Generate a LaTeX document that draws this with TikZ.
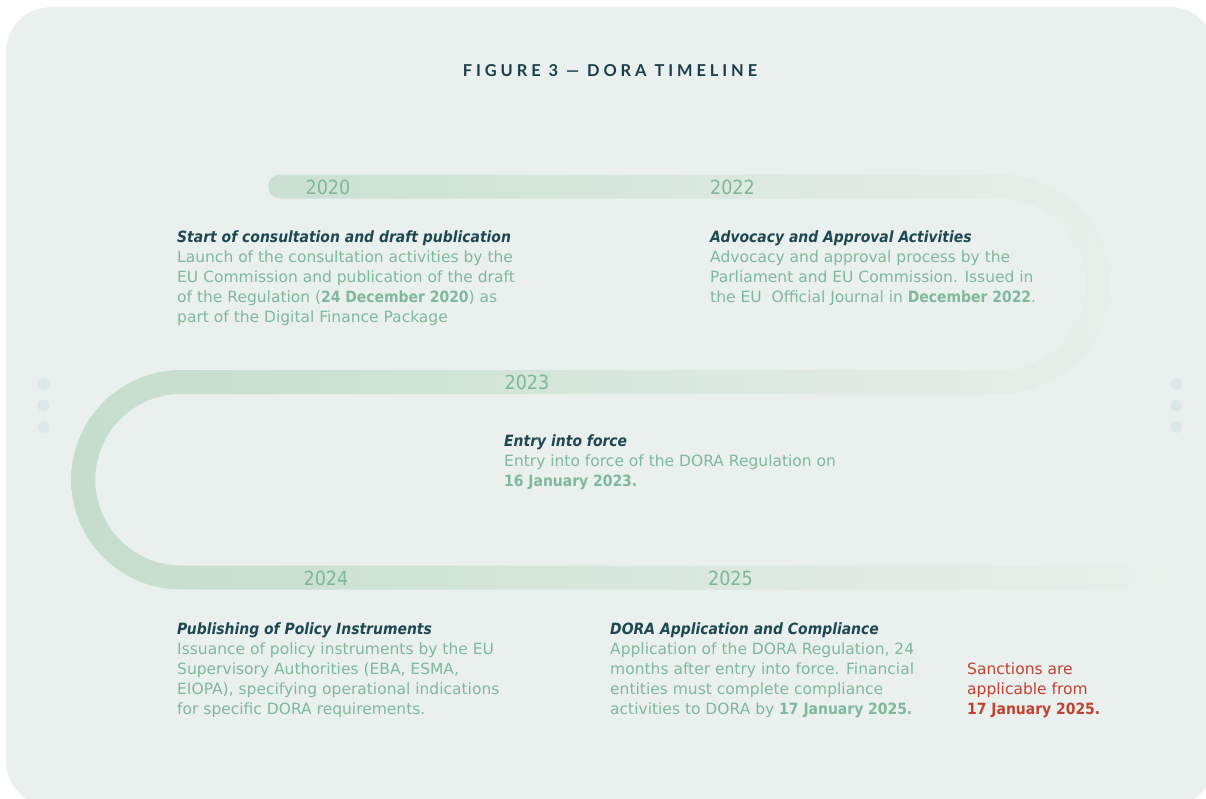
\documentclass[tikz,border=0pt]{standalone}
\usepackage{fontspec}
\setmainfont{DejaVu Sans}[
  ItalicFont={DejaVu Sans Oblique},
  BoldFont={DejaVu Sans Condensed Bold},
  BoldItalicFont={DejaVu Sans Condensed Bold Oblique}]
\newfontfamily\yearfont{DejaVu Sans Condensed}
\newfontfamily\titlefont{Lato}[LetterSpace=24]

\definecolor{pagebg}{HTML}{EAF0ED}
\definecolor{trackL}{HTML}{C4DDCC}
\definecolor{trackR}{HTML}{EAF0ED}
\definecolor{titlecol}{HTML}{173F4B}
\definecolor{headcol}{HTML}{1D4852}
\definecolor{bodycol}{HTML}{7DB99B}
\definecolor{yearcol}{HTML}{7CB799}
\definecolor{redcol}{HTML}{C2412F}
\definecolor{dotcol}{HTML}{DCE7E7}

\begin{document}
\begin{tikzpicture}[x=1bp,y=-1bp,
  yearlbl/.style={font=\yearfont\fontsize{19.5bp}{19.5bp}\selectfont, text=yearcol, inner sep=0pt, anchor=base},
  % multi-line blocks are placed by the baseline of their last line
  block/.style={font=\fontsize{15.5bp}{20bp}\selectfont, text=bodycol, align=left, inner sep=0pt, anchor=base west},
  dot/.style={fill=dotcol, draw=none},
  ]
\useasboundingbox (0,0) rectangle (1206,799);

% card background
\fill[pagebg, rounded corners=45bp] (6,7) rectangle (1215,806);

% serpentine track: one closed outline, shaded left to right
\shade[left color=trackL, right color=trackR]
  (280,174.5) -- (1000,174.5)
  arc[start angle=-90, end angle=90, radius=109.75]
  -- (181,394)
  arc[start angle=-90, end angle=-270, radius=85.75]
  -- (1180,565.5) -- (1180,589.5) -- (181,589.5)
  arc[start angle=90, end angle=270, radius=109.75]
  -- (1000,370)
  arc[start angle=90, end angle=-90, radius=85.75]
  -- (280,198.5)
  arc[start angle=90, end angle=270, radius=12]
  -- cycle;

% side dots
\foreach \yy in {384,405.5,427} {
  \fill[dot] (43.5,\yy) circle[radius=5.8];
  \fill[dot] (1176.5,\yy) circle[radius=5.8];
}

% title
\node[font=\titlefont\bfseries\fontsize{16.4bp}{16.4bp}\selectfont, text=titlecol, anchor=base, inner sep=0pt]
  (title) at (610,76.5) {FIGURE 3 — DORA TIMELINE};

% years
\node[yearlbl] (y2020) at (328,194) {2020};
\node[yearlbl] (y2022) at (732.5,194) {2022};
\node[yearlbl] (y2023) at (527,389.5) {2023};
\node[yearlbl] (y2024) at (326,585) {2024};
\node[yearlbl] (y2025) at (730.5,585) {2025};

% milestones
\node[block] (consult) at (177,322.5) {%
  {\bfseries\itshape\color{headcol}Start of consultation and draft publication}\\
  Launch of the consultation activities by the\\
  EU Commission and publication of the draft\\
  of the Regulation (\textbf{24 December 2020}) as\\
  part of the Digital Finance Package};

\node[block] (advocacy) at (710,302.5) {%
  {\bfseries\itshape\color{headcol}Advocacy and Approval Activities}\\
  Advocacy and approval process by the\\
  Parliament and EU Commission. Issued in\\
  the EU\ \ Official Journal in \textbf{December 2022}.};

\node[block] (entry) at (504,486.5) {%
  {\bfseries\itshape\color{headcol}Entry into force}\\
  Entry into force of the DORA Regulation on\\
  \textbf{16 January 2023.}};

\node[block] (policy) at (177,714.5) {%
  {\bfseries\itshape\color{headcol}Publishing of Policy Instruments}\\
  Issuance of policy instruments by the EU\\
  Supervisory Authorities (EBA, ESMA,\\
  EIOPA), specifying operational indications\\
  for specific DORA requirements.};

\node[block] (apply) at (610,714.5) {%
  {\bfseries\itshape\color{headcol}DORA Application and Compliance}\\
  Application of the DORA Regulation, 24\\
  months after entry into force. Financial\\
  entities must complete compliance\\
  activities to DORA by \textbf{17 January 2025.}};

\node[block, text=redcol] (sanctions) at (967,714.5) {%
  Sanctions are\\
  applicable from\\
  \textbf{17 January 2025.}};
\end{tikzpicture}
\end{document}
